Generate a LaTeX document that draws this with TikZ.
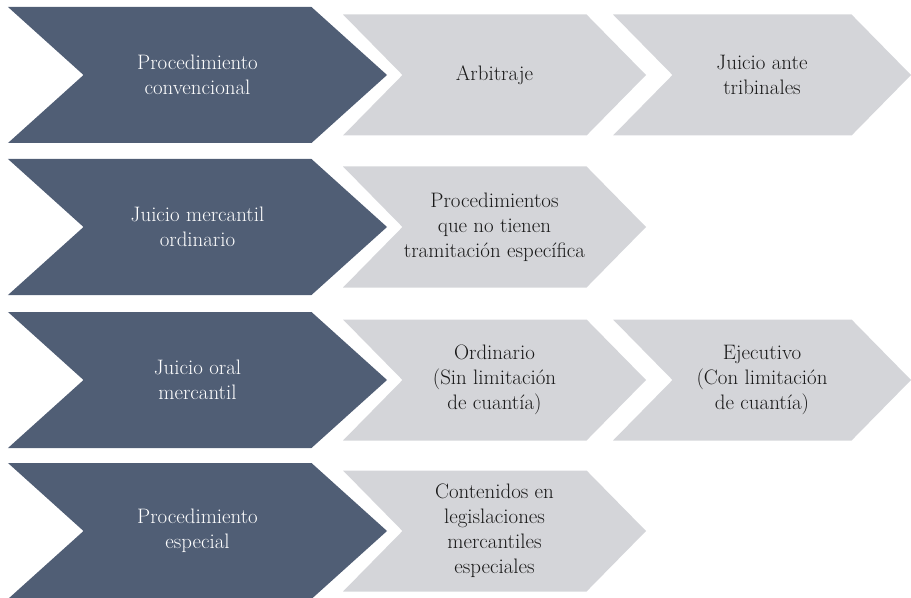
\documentclass[tikz,border=0pt]{standalone}
\usetikzlibrary{shapes.symbols}
\definecolor{slate}{HTML}{505E75}
\definecolor{silver}{HTML}{D4D5D9}

\begin{document}
\begin{tikzpicture}[x=1bp,y=-1bp]
  \tikzstyle{chevron} = [signal, signal to=east, signal from=west, inner sep=0pt, align=center, font=\fontsize{21}{25}\selectfont]
  \tikzstyle{main} = [chevron, fill=slate, text=white, minimum width=379bp, minimum height=136bp, signal pointer angle=84]
  \tikzstyle{sub} = [chevron, fill=silver, text=black!90, minimum width=303bp, minimum height=121bp, signal pointer angle=91]

  \useasboundingbox (0,0) rectangle (911,598);

  \node (conv) [main] at (197.5,75) {Procedimiento\\convencional};
  \node (arb) [sub] at (494.5,75) {Arbitraje};
  \node (trib) [sub, minimum width=298bp] at (762,75) {Juicio ante\\tribinales};

  \node (ordin) [main] at (197.5,227) {Juicio mercantil\\ordinario};
  \node (tram) [sub] at (494.5,227) {Procedimientos\\que no tienen\\tramitación específica};

  \node (oral) [main] at (197.5,380) {Juicio oral\\mercantil};
  \node (sinlim) [sub] at (494.5,380) {Ordinario\\(Sin limitación\\de cuantía)};
  \node (conlim) [sub, minimum width=298bp] at (762,380) {Ejecutivo\\(Con limitación\\de cuantía)};

  \node (espec) [main] at (197.5,531) {Procedimiento\\especial};
  \node (legis) [sub] at (494.5,531) {Contenidos en\\legislaciones\\mercantiles\\especiales};
\end{tikzpicture}
\end{document}
